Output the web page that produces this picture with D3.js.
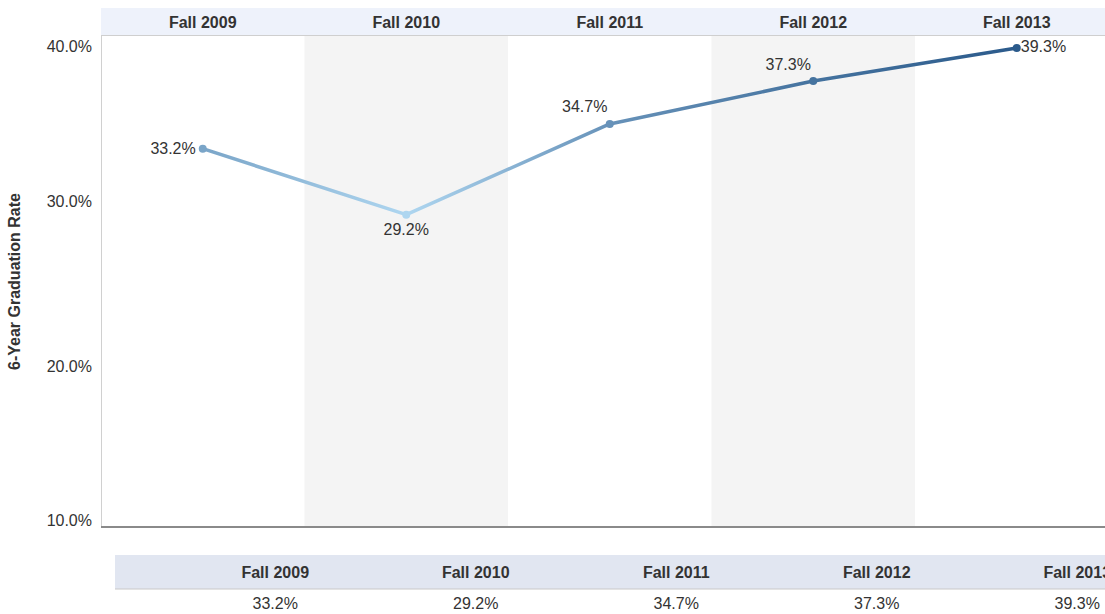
<!DOCTYPE html>
<html>
<head>
<meta charset="utf-8">
<script src="https://cdn.jsdelivr.net/npm/d3@7"></script>
<style>
  body { margin: 0; background: #fff; font-family: "Liberation Sans", Arial, sans-serif; }
  svg { display: block; }
</style>
</head>
<body>
<div id="chart"></div>
<script>
// Datos
const terms = ["Fall 2009", "Fall 2010", "Fall 2011", "Fall 2012", "Fall 2013"];
const rates = [33.2, 29.2, 34.7, 37.3, 39.3];
const yTicks = [40, 30, 20, 10];

const W = 1105, H = 614;
const plot = { left: 101, top: 36, bottom: 527, colW: 203.5 };
const FS = 16;

const svg = d3.select("#chart").append("svg")
  .attr("width", W).attr("height", H);

const x = d3.scaleBand()
  .domain(terms)
  .range([plot.left, plot.left + plot.colW * terms.length]);

const y = d3.scaleLinear()
  .domain([10.27, 40])
  .range([plot.bottom, plot.top + 0.5]);

const color = d3.scaleLinear()
  .domain([29.2, 39.3])
  .range(["#aed6f0", "#2b5a8b"]);

// Columnas sombreadas alternas
svg.selectAll("rect.band")
  .data(terms.filter((d, i) => i % 2 === 1))
  .enter().append("rect")
  .attr("x", d => x(d))
  .attr("y", plot.top)
  .attr("width", x.bandwidth())
  .attr("height", plot.bottom - plot.top)
  .attr("fill", "#f4f4f4");

// Encabezado superior
svg.append("rect")
  .attr("x", plot.left).attr("y", 8)
  .attr("width", W - plot.left).attr("height", plot.top - 8)
  .attr("fill", "#eef2fb");
svg.append("line")
  .attr("x1", plot.left).attr("x2", W)
  .attr("y1", plot.top - 0.5).attr("y2", plot.top - 0.5)
  .attr("stroke", "#cfcfcf");

svg.selectAll("text.head")
  .data(terms)
  .enter().append("text")
  .attr("class", "head")
  .attr("x", d => x(d) + x.bandwidth() / 2)
  .attr("y", 22)
  .attr("dy", "0.35em")
  .attr("text-anchor", "middle")
  .attr("font-size", FS)
  .attr("font-weight", "bold")
  .attr("fill", "#333")
  .text(d => d);

// Bordes del área
svg.append("line")
  .attr("x1", plot.left + 0.5).attr("x2", plot.left + 0.5)
  .attr("y1", plot.top).attr("y2", plot.bottom)
  .attr("stroke", "#d0d0d0");
svg.append("line")
  .attr("x1", plot.left).attr("x2", W)
  .attr("y1", plot.bottom).attr("y2", plot.bottom)
  .attr("stroke", "#8a8a8a").attr("stroke-width", 2);

// Etiquetas del eje Y (la primera y la última se desplazan hacia dentro)
const tickShift = { 40: 10, 10: -11 };
svg.selectAll("text.ytick")
  .data(yTicks)
  .enter().append("text")
  .attr("class", "ytick")
  .attr("x", 92)
  .attr("y", d => y(d) + (tickShift[d] || 0))
  .attr("dy", "0.35em")
  .attr("text-anchor", "end")
  .attr("font-size", FS)
  .attr("fill", "#333")
  .text(d => d.toFixed(1) + "%");

svg.append("text")
  .attr("transform", `translate(20,${(plot.top + plot.bottom) / 2}) rotate(-90)`)
  .attr("text-anchor", "middle")
  .attr("font-size", FS)
  .attr("font-weight", "bold")
  .attr("fill", "#333")
  .text("6-Year Graduation Rate");

// Línea con degradado por segmento
const pts = terms.map((t, i) => ({ t, v: rates[i], x: x(t) + x.bandwidth() / 2, y: y(rates[i]) }));
const defs = svg.append("defs");
const segs = d3.pairs(pts);
segs.forEach(([a, b], i) => {
  const g = defs.append("linearGradient")
    .attr("id", "seg" + i)
    .attr("gradientUnits", "userSpaceOnUse")
    .attr("x1", a.x).attr("y1", a.y).attr("x2", b.x).attr("y2", b.y);
  g.append("stop").attr("offset", "0%").attr("stop-color", color(a.v));
  g.append("stop").attr("offset", "100%").attr("stop-color", color(b.v));
});
svg.selectAll("line.seg")
  .data(segs)
  .enter().append("line")
  .attr("class", "seg")
  .attr("x1", d => d[0].x).attr("y1", d => d[0].y)
  .attr("x2", d => d[1].x).attr("y2", d => d[1].y)
  .attr("stroke", (d, i) => `url(#seg${i})`)
  .attr("stroke-width", 3.5)
  .attr("stroke-linecap", "round");

svg.selectAll("circle.pt")
  .data(pts)
  .enter().append("circle")
  .attr("cx", d => d.x).attr("cy", d => d.y)
  .attr("r", 4)
  .attr("fill", d => color(d.v));

// Etiquetas de valores
const place = [
  { dx: -7, dy: 0, anchor: "end" },
  { dx: 0, dy: 15, anchor: "middle" },
  { dx: -25, dy: -18, anchor: "middle" },
  { dx: -25, dy: -17, anchor: "middle" },
  { dx: 4, dy: -2, anchor: "start" }
];
svg.selectAll("text.val")
  .data(pts)
  .enter().append("text")
  .attr("class", "val")
  .attr("x", (d, i) => d.x + place[i].dx)
  .attr("y", (d, i) => d.y + place[i].dy)
  .attr("dy", "0.35em")
  .attr("text-anchor", (d, i) => place[i].anchor)
  .attr("font-size", FS)
  .attr("fill", "#333")
  .text(d => d.v.toFixed(1) + "%");

// Tabla inferior
const tx = d3.scaleBand()
  .domain(terms)
  .range([175, 175 + 200.5 * terms.length]);

svg.append("rect")
  .attr("x", 115).attr("y", 555)
  .attr("width", W - 115).attr("height", 34)
  .attr("fill", "#e1e6f1");
svg.append("line")
  .attr("x1", 115).attr("x2", W)
  .attr("y1", 589).attr("y2", 589)
  .attr("stroke", "#c8c8c8");

svg.selectAll("text.thead")
  .data(terms)
  .enter().append("text")
  .attr("class", "thead")
  .attr("x", d => tx(d) + tx.bandwidth() / 2)
  .attr("y", 572)
  .attr("dy", "0.35em")
  .attr("text-anchor", "middle")
  .attr("font-size", FS)
  .attr("font-weight", "bold")
  .attr("fill", "#333")
  .text(d => d);

svg.selectAll("text.tval")
  .data(pts)
  .enter().append("text")
  .attr("class", "tval")
  .attr("x", d => tx(d.t) + tx.bandwidth() / 2)
  .attr("y", 603)
  .attr("dy", "0.35em")
  .attr("text-anchor", "middle")
  .attr("font-size", FS)
  .attr("fill", "#333")
  .text(d => d.v.toFixed(1) + "%");
</script>
</body>
</html>
